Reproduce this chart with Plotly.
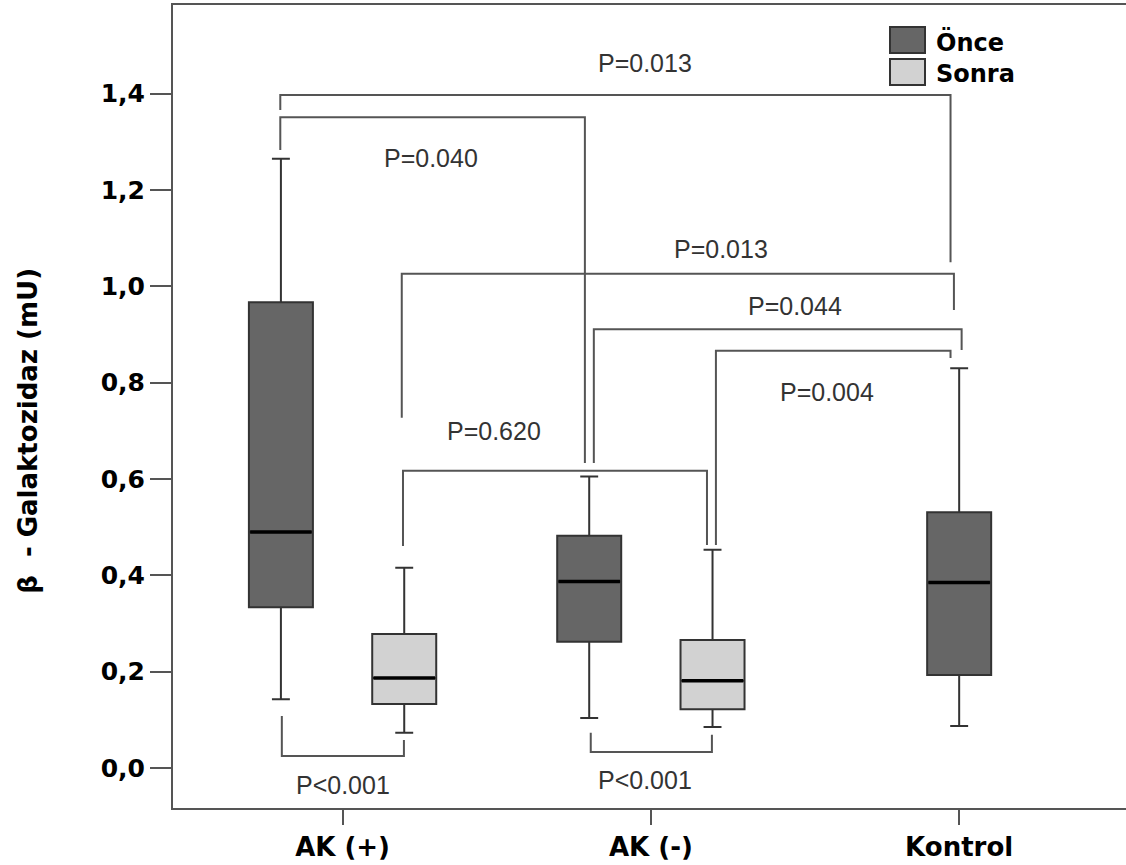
import plotly.graph_objects as go

# ---------------- data ----------------
categories = ["AK (+)", "AK (-)", "Kontrol"]
cat_pos = [0, 1, 2]

# Önce (before) boxes: AK(+), AK(-), Kontrol
once_q1 = [0.334, 0.262, 0.193]
once_med = [0.490, 0.387, 0.385]
once_q3 = [0.967, 0.482, 0.531]
once_lo = [0.143, 0.104, 0.087]
once_hi = [1.265, 0.605, 0.830]

# Sonra (after) boxes: AK(+), AK(-)
sonra_q1 = [0.133, 0.122]
sonra_med = [0.187, 0.181]
sonra_q3 = [0.278, 0.266]
sonra_lo = [0.073, 0.085]
sonra_hi = [0.416, 0.453]

ytick_vals = [0.0, 0.2, 0.4, 0.6, 0.8, 1.0, 1.2, 1.4]
ytick_text = ["0,0", "0,2", "0,4", "0,6", "0,8", "1,0", "1,2", "1,4"]

# significance brackets: (x_left, x_right, level, left_end, right_end, label, label_x, label_y)
brackets = [
    (-0.202, 1.972, 1.397, 1.366, 1.050, "P=0.013", 0.981, 1.464),
    (-0.202, 0.786, 1.351, 1.283, 0.633, "P=0.040", 0.288, 1.267),
    (0.192, 1.983, 1.026, 0.727, 0.951, "P=0.013", 1.229, 1.077),
    (0.815, 2.008, 0.911, 0.633, 0.868, "P=0.044", 1.466, 0.959),
    (1.211, 1.972, 0.866, 0.463, 0.851, "P=0.004", 1.572, 0.781),
    (0.196, 1.182, 0.617, 0.461, 0.463, "P=0.620", 0.492, 0.700),
    (-0.197, 0.199, 0.025, 0.108, 0.058, "P<0.001", 0.000, -0.035),
    (0.805, 1.198, 0.033, 0.073, 0.069, "P<0.001", 0.981, -0.025),
]

# ---------------- style ----------------
ONCE_FILL = "#666666"
SONRA_FILL = "#d2d2d2"
BOX_LINE = "#333333"
BRACKET = "#555555"
AXIS = "#555555"
offset = 0.2
box_w = 0.2076

once_x = [cat_pos[0] - offset, cat_pos[1] - offset, cat_pos[2]]
sonra_x = [cat_pos[0] + offset, cat_pos[1] + offset]

fig = go.Figure()

fig.add_trace(go.Box(
    name="Önce", x=once_x, q1=once_q1, median=once_med, q3=once_q3,
    lowerfence=once_lo, upperfence=once_hi, width=box_w,
    fillcolor=ONCE_FILL, line=dict(color=BOX_LINE, width=2),
    whiskerwidth=0.28, boxpoints=False, showlegend=False, hoverinfo="skip",
))
fig.add_trace(go.Box(
    name="Sonra", x=sonra_x, q1=sonra_q1, median=sonra_med, q3=sonra_q3,
    lowerfence=sonra_lo, upperfence=sonra_hi, width=box_w,
    fillcolor=SONRA_FILL, line=dict(color=BOX_LINE, width=2),
    whiskerwidth=0.28, boxpoints=False, showlegend=False, hoverinfo="skip",
))

# thicker black median lines
for xs, meds in ((once_x, once_med), (sonra_x, sonra_med)):
    for xc, m in zip(xs, meds):
        fig.add_trace(go.Scatter(
            x=[xc - box_w / 2 + 0.004, xc + box_w / 2 - 0.004], y=[m, m],
            mode="lines", line=dict(color="#000000", width=3.5),
            showlegend=False, hoverinfo="skip",
        ))

# brackets
for xl, xr, lvl, le, re, lab, lx, ly in brackets:
    fig.add_trace(go.Scatter(
        x=[xl, xl, xr, xr], y=[le, lvl, lvl, re], mode="lines",
        line=dict(color=BRACKET, width=2), showlegend=False, hoverinfo="skip",
    ))
    fig.add_annotation(
        x=lx, y=ly, xref="x", yref="y", text=lab, showarrow=False,
        font=dict(family="Liberation Sans, Arial, sans-serif", size=25, color="#333333"),
        xanchor="center", yanchor="middle",
    )

# figure geometry (plot area runs past the right edge of the window, as in the reference)
W, H, L, T = 1150, 865, 173, 5
B = 57
pw, ph = W - L, H - T - B
x_left = -0.550
x_right = x_left + pw / 308.3


def px(xp):
    return (xp - L) / pw


def py(yp):
    return (H - B - yp) / ph


# manual legend
legend_items = [("Önce", ONCE_FILL, 27, 53), ("Sonra", SONRA_FILL, 59, 85)]
for name, col, y0, y1 in legend_items:
    fig.add_shape(type="rect", xref="paper", yref="paper",
                  x0=px(890), x1=px(925), y0=py(y1), y1=py(y0),
                  fillcolor=col, line=dict(color="#333333", width=2))
    fig.add_annotation(
        xref="paper", yref="paper", x=px(934), y=py((y0 + y1) / 2 + 2),
        text=name, showarrow=False, xanchor="left", yanchor="middle",
        font=dict(family="DejaVu Sans", size=24, color="#000000", weight=700),
    )

# y-axis title
fig.add_annotation(
    xref="paper", yref="y", x=0, y=0.70, xshift=-145,
    text="β  - Galaktozidaz (mU)", textangle=-90, showarrow=False,
    xanchor="center", yanchor="middle",
    font=dict(family="DejaVu Sans", size=26, color="#000000", weight=700),
)

fig.update_layout(
    width=W, height=H,
    margin=dict(l=L, r=0, t=T, b=B),
    paper_bgcolor="white", plot_bgcolor="white",
    boxmode="overlay",
    showlegend=False,
)
fig.update_xaxes(
    range=[x_left, x_right], tickvals=cat_pos, ticktext=categories,
    showline=True, mirror=True, linecolor=AXIS, linewidth=2,
    ticks="outside", ticklen=15, tickwidth=2, tickcolor=AXIS,
    showgrid=False, zeroline=False,
    tickfont=dict(family="DejaVu Sans", size=26, color="#000000", weight=700),
)
fig.update_yaxes(
    range=[-0.083, 1.584], tickvals=ytick_vals, ticktext=ytick_text,
    showline=True, mirror=False, linecolor=AXIS, linewidth=2,
    ticks="outside", ticklen=21, tickwidth=2, tickcolor=AXIS,
    showgrid=False, zeroline=False,
    tickfont=dict(family="DejaVu Sans", size=25, color="#000000", weight=700),
)

fig.write_html(
    "out.html",
    config={"displayModeBar": False},
    post_script=(
        "document.body.style.margin='0';"
        "document.body.style.overflow='hidden';"
        "document.documentElement.style.overflow='hidden';"
    ),
)
